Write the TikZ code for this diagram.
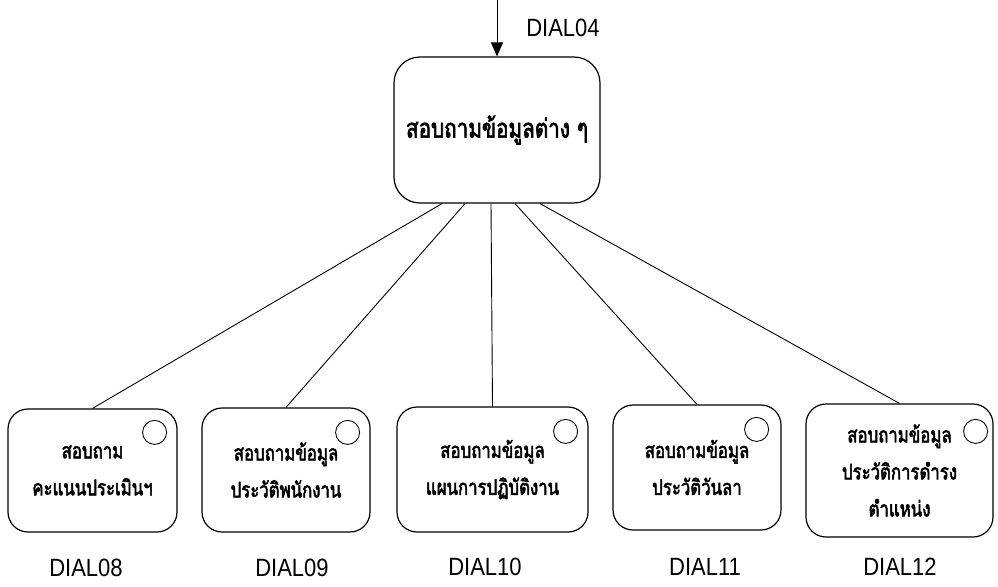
\documentclass[tikz,border=0pt]{standalone}
\usepackage{fontspec}
\setmainfont{Liberation Sans}
\newfontfamily\thaifont[Script=Thai, FakeBold=2.4, FakeStretch=0.78]{Loma}
\usetikzlibrary{arrows.meta,calc}
\tikzset{
  dbox/.style={draw, line width=1.2pt, rounded corners=20pt, align=center, inner sep=0pt,
    font=\thaifont\fontsize{21.5}{37}\selectfont},
  topbox/.style={dbox, rounded corners=26pt, font=\thaifont\fontsize{26.5}{30}\selectfont},
  ring/.style={draw, circle, line width=0.9pt, minimum size=24pt, inner sep=0pt},
  dlabel/.style={font=\fontsize{25}{27}\selectfont, inner sep=0pt},
  link/.style={line width=0.9pt}
}
\newcommand{\dl}[1]{\scalebox{0.88}[1]{#1}}
\begin{document}
\begin{tikzpicture}[x=1pt,y=-1pt]
\useasboundingbox (0,0) rectangle (998,586);
\node[topbox, minimum width=206pt, minimum height=146pt] (top) at (497,130) {สอบถามข้อมูลต่าง ๆ};
\coordinate (entry) at (497,0);
\draw[link, -{Triangle[width=12pt,length=14pt]}] (entry) -- (top.north);
\node[dlabel] (l04) at (563,28) {\dl{DIAL04}};

\node[dbox, minimum width=169pt, minimum height=123pt] (b1) at (92.5,470.5) {สอบถาม\\คะแนนประเมินฯ};
\node[dbox, minimum width=168pt, minimum height=124pt] (b2) at (286,470) {สอบถามข้อมูล\\ประวัติพนักงาน};
\node[dbox, minimum width=191pt, minimum height=125pt] (b3) at (492.5,469.5) {สอบถามข้อมูล\\แผนการปฏิบัติงาน};
\node[dbox, minimum width=168pt, minimum height=125pt] (b4) at (697,467.5) {สอบถามข้อมูล\\ประวัติวันลา};
\node[dbox, minimum width=187pt, minimum height=133pt] (b5) at (899.5,470.5) {สอบถามข้อมูล\\ประวัติการดำรง\\ตำแหน่ง};

\node[ring] (r1) at ($(b1.north east)+(-23,24)$) {};
\node[ring] (r2) at ($(b2.north east)+(-23,25)$) {};
\node[ring] (r3) at ($(b3.north east)+(-23,25)$) {};
\node[ring] (r4) at ($(b4.north east)+(-25,25)$) {};
\node[ring] (r5) at ($(b5.north east)+(-18,28)$) {};

\draw[link] ($(top.south)+(-55,0)$) -- (b1.north);
\draw[link] ($(top.south)+(-32,0)$) -- (b2.north);
\draw[link] ($(top.south)+(-6,0)$) -- (b3.north);
\draw[link] ($(top.south)+(18,0)$) -- (b4.north);
\draw[link] ($(top.south)+(43,0)$) -- (b5.north);

\node[dlabel] (l08) at (86,568) {\dl{DIAL08}};
\node[dlabel] (l09) at (292,568) {\dl{DIAL09}};
\node[dlabel] (l10) at (485,567) {\dl{DIAL10}};
\node[dlabel] (l11) at (705,567) {\dl{DIAL11}};
\node[dlabel] (l12) at (900,567) {\dl{DIAL12}};
\end{tikzpicture}
\end{document}
